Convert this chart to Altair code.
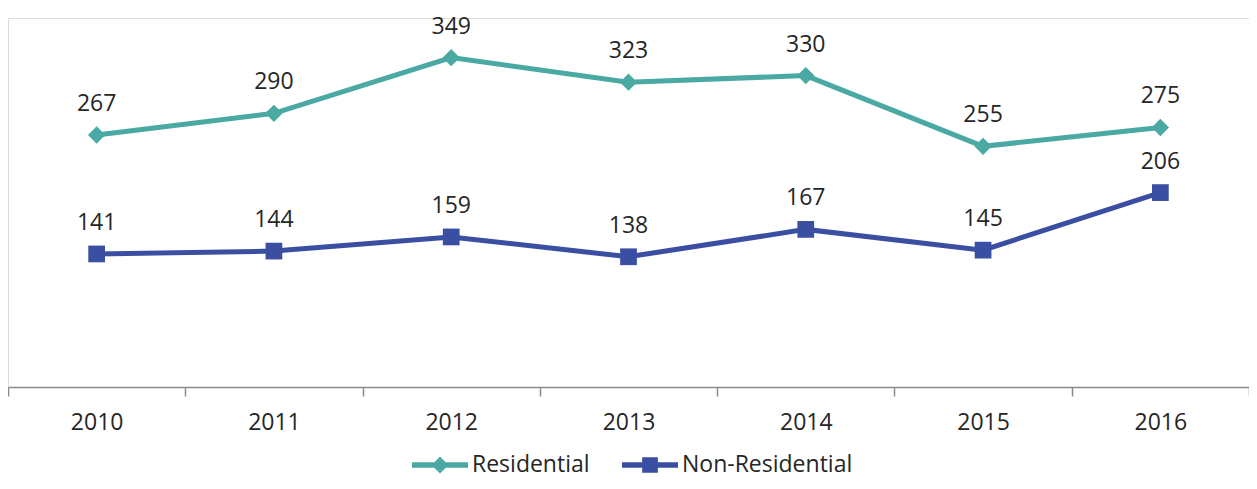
import altair as alt
import pandas as pd

years = ["2010", "2011", "2012", "2013", "2014", "2015", "2016"]
residential = [267, 290, 349, 323, 330, 255, 275]
non_residential = [141, 144, 159, 138, 167, 145, 206]
series_names = ["Residential", "Non-Residential"]
series_colors = ["#4BA9A3", "#3B4FA2"]

rows = []
for y, v in zip(years, residential):
    rows.append({"year": y, "value": v, "series": series_names[0]})
for y, v in zip(years, non_residential):
    rows.append({"year": y, "value": v, "series": series_names[1]})
df = pd.DataFrame(rows)

FONT = "Open Sans"
TXT = "#262626"

diamond_path = "M-1,-0.1L1,-0.1L1,0.1L-1,0.1Z M-0.3,0L0,-0.3L0.3,0L0,0.3Z"
square_path = "M-1,-0.1L1,-0.1L1,0.1L-1,0.1Z M-0.28,-0.28L0.28,-0.28L0.28,0.28L-0.28,0.28Z"

legend = alt.Legend(
    title=None,
    orient="none",
    legendX=404,
    legendY=419,
    direction="horizontal",
    symbolSize=3136,
    symbolStrokeWidth=0,
    symbolOpacity=1,
    labelFont=FONT,
    labelFontSize=23,
    labelColor=TXT,
    labelOffset=4,
    labelLimit=400,
    columnPadding=32,
    padding=0,
)

x_enc = alt.X(
    "year:N",
    sort=years,
    scale=alt.Scale(paddingInner=0, paddingOuter=0),
    axis=alt.Axis(
        title=None,
        labelAngle=0,
        tickBand="extent",
        tickSize=9,
        tickColor="#8a8a8a",
        domainColor="#8a8a8a",
        domainWidth=1.5,
        tickWidth=1.5,
        labelFont=FONT,
        labelFontSize=23,
        labelColor=TXT,
        labelPadding=15,
        grid=False,
    ),
)
y_enc = alt.Y("value:Q", scale=alt.Scale(domain=[0, 391], nice=False), axis=None)
color_scale = alt.Scale(domain=series_names, range=series_colors)

base = alt.Chart(df)

legend_layer = base.mark_point(filled=True, opacity=1, size=0).encode(
    x=x_enc,
    y=y_enc,
    color=alt.Color("series:N", sort=series_names, scale=color_scale, legend=legend),
    shape=alt.Shape("series:N", sort=series_names,
                    scale=alt.Scale(domain=series_names, range=[diamond_path, square_path]),
                    legend=legend),
)

def series_layers(name, color, shape, size):
    sub = base.transform_filter(alt.datum.series == name)
    ln = sub.mark_line(strokeWidth=5, color=color).encode(x=x_enc, y=y_enc)
    pt = sub.mark_point(filled=True, opacity=1, shape=shape, size=size, color=color).encode(x=x_enc, y=y_enc)
    return ln, pt

ln_res, pt_res = series_layers(series_names[0], series_colors[0], "diamond", 300)
ln_non, pt_non = series_layers(series_names[1], series_colors[1], "square", 280)

labels = base.mark_text(dy=-31, font=FONT, fontSize=23, color=TXT).encode(
    x=x_enc, y=y_enc, text="value:Q"
)

chart = (
    alt.layer(legend_layer, ln_res, ln_non, pt_res, pt_non, labels)
    .properties(
        width=1241,
        height=369,
        autosize=alt.AutoSizeParams(type="none"),
        padding={"left": 0, "right": 0, "top": 10, "bottom": 94},
    )
    .configure_view(strokeWidth=0, stroke="transparent")
    .configure(background="white")
)

chart.save("out.html", embed_options={"renderer": "svg", "actions": False})
